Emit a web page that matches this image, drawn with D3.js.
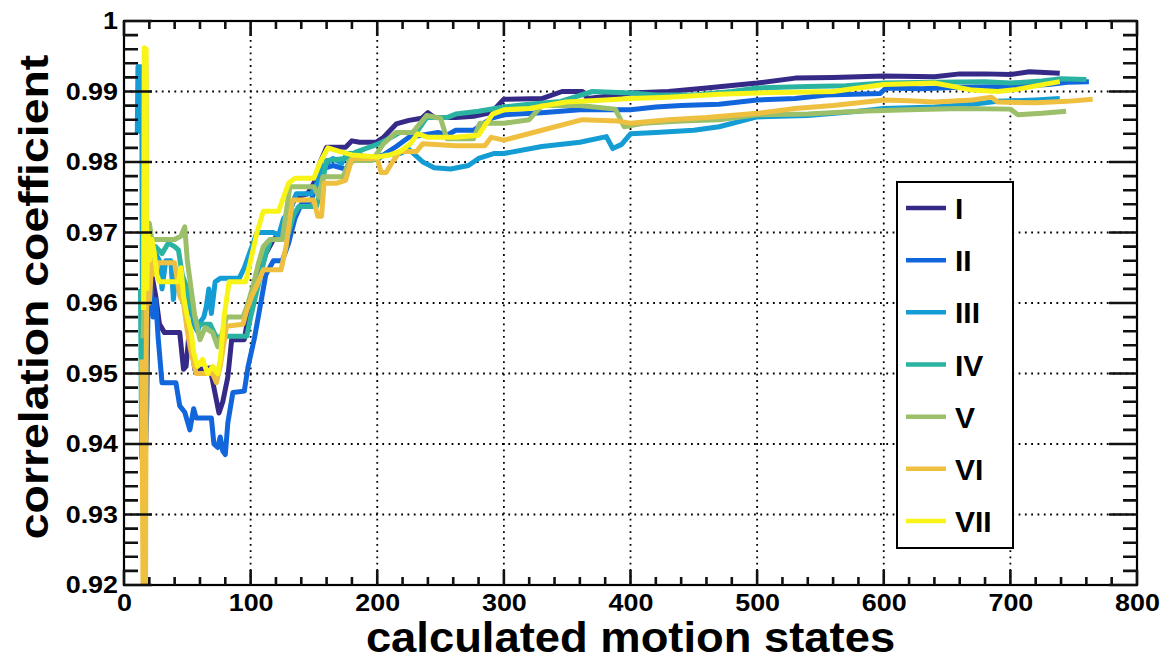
<!DOCTYPE html>
<html><head><meta charset="utf-8">
<title>correlation coefficient vs calculated motion states</title>
<script src="https://cdn.jsdelivr.net/npm/d3@7"></script>
<style>
body{margin:0;background:#fff}
svg text{font-family:"Liberation Sans",Arial,Helvetica,sans-serif;font-weight:bold;fill:#000}
</style></head>
<body><svg id="chart" width="1169" height="661"></svg>
<script>
// ---------- layout scaffolding first ----------
const L = 124, R = 1137, T = 21, B = 585;
const svg = d3.select("#chart");

// ---------- labels / ticks ----------
const xTitle = "calculated motion states";
const yTitle = "correlation coefficient";
const xMajorTicks = [0,100,200,300,400,500,600,700,800];
const yMajorTicks = [0.92,0.93,0.94,0.95,0.96,0.97,0.98,0.99,1];
const yTickLabels = ["0.92","0.93","0.94","0.95","0.96","0.97","0.98","0.99","1"];
const seriesNames = ["I","II","III","IV","V","VI","VII"];
const seriesColors = ["#352a87","#1266dc","#149cd5","#2bb3a2","#9cbf6a","#efc040","#f8f417"];

const x = d3.scaleLinear().domain([0,800]).range([L,R]);
const y = d3.scaleLinear().domain([0.92,1]).range([B,T]);
const xMinor = d3.range(0,801,20).filter(v => v%100!==0);
const yMinor = d3.range(0,41,1).filter(i => i%5!==0).map(i => 0.92+i*0.002);

// ---------- series data [x, r] ----------
const serI = [[16,0.965],[17,0.9955],[18,0.962],[20,0.961],[22,0.964],[25,0.961],[28,0.957],[32,0.9558],[44,0.9558],[47,0.9506],[49,0.951],[51,0.955],[54,0.953],[56,0.9505],[68,0.9508],[71,0.948],[75,0.9444],[78,0.946],[82,0.9495],[85,0.9548],[95,0.9548],[98,0.958],[102,0.9605],[107,0.964],[112,0.967],[118,0.969],[125,0.970],[130,0.9725],[135,0.975],[145,0.9755],[150,0.977],[155,0.980],[160,0.9821],[175,0.9821],[180,0.983],[186,0.9828],[199,0.9828],[205,0.9835],[215,0.9854],[225,0.9859],[235,0.9862],[240,0.987],[245,0.9863],[262,0.9863],[276,0.9865],[290,0.987],[300,0.9889],[330,0.989],[346,0.990],[362,0.990],[366,0.989],[390,0.9895],[400,0.9898],[430,0.990],[460,0.9905],[500,0.9912],[530,0.9919],[560,0.992],[580,0.9921],[600,0.9922],[640,0.9921],[660,0.9925],[680,0.9925],[700,0.9924],[715,0.9928],[739,0.9926]];
const serII = [[16,0.958],[17,0.939],[18,0.945],[19,0.960],[21,0.963],[23,0.958],[25,0.9605],[27,0.955],[30,0.9487],[41,0.9487],[44,0.9454],[48,0.9445],[52,0.942],[55,0.945],[57,0.9437],[69,0.9437],[71,0.940],[74,0.9395],[76,0.941],[78,0.939],[80,0.9385],[82,0.943],[86,0.9473],[95,0.9475],[98,0.951],[103,0.955],[108,0.960],[112,0.964],[118,0.966],[125,0.966],[130,0.9685],[135,0.972],[140,0.974],[148,0.9745],[152,0.977],[156,0.979],[165,0.9795],[175,0.979],[182,0.9805],[195,0.9805],[205,0.981],[215,0.9822],[225,0.9835],[235,0.9838],[248,0.9842],[255,0.9838],[262,0.9845],[276,0.9845],[290,0.9862],[300,0.9867],[330,0.987],[360,0.9874],[400,0.9874],[420,0.9878],[440,0.988],[470,0.9882],[500,0.9888],[530,0.989],[555,0.9895],[597,0.9897],[602,0.9905],[630,0.9904],[660,0.9906],[700,0.9907],[730,0.991],[745,0.9913],[762,0.9914]];
const serIII = [[10.5,0.984],[11,0.9935],[14,0.9935],[14.5,0.960],[16,0.975],[17,0.968],[19,0.966],[21,0.969],[23,0.965],[25,0.967],[28,0.966],[30,0.962],[33,0.966],[37,0.966],[39,0.9605],[41,0.964],[44,0.964],[47,0.962],[50,0.958],[52,0.9615],[55,0.957],[58,0.956],[61,0.9575],[63,0.958],[65,0.9595],[67,0.962],[69,0.9585],[72,0.963],[76,0.9635],[91,0.9635],[95,0.965],[99,0.967],[105,0.970],[118,0.970],[122,0.9695],[126,0.972],[131,0.973],[136,0.9755],[148,0.9755],[153,0.977],[158,0.9795],[165,0.9805],[172,0.9798],[176,0.9812],[185,0.9812],[192,0.9805],[200,0.9803],[205,0.981],[218,0.9812],[225,0.9818],[236,0.980],[245,0.9792],[258,0.979],[272,0.9795],[280,0.9805],[292,0.9812],[300,0.9812],[330,0.9822],[360,0.9828],[381,0.9836],[386,0.9819],[393,0.9825],[400,0.984],[420,0.9842],[450,0.9845],[470,0.985],[500,0.9864],[540,0.9866],[580,0.9872],[600,0.9876],[640,0.9878],[670,0.9882],[690,0.9886],[720,0.9888],[739,0.989]];
const serIV = [[13,0.962],[14,0.938],[15,0.968],[16,0.993],[17,0.975],[18,0.966],[20,0.9675],[25,0.968],[30,0.967],[35,0.9685],[40,0.968],[43,0.9675],[46,0.964],[50,0.962],[53,0.9595],[56,0.958],[58,0.957],[68,0.957],[72,0.9555],[75,0.955],[80,0.9553],[97,0.9553],[100,0.958],[104,0.961],[108,0.964],[112,0.967],[116,0.969],[125,0.969],[130,0.970],[134,0.9725],[138,0.9737],[152,0.9737],[156,0.9765],[160,0.9802],[175,0.9805],[183,0.9814],[200,0.9825],[210,0.9834],[218,0.9842],[231,0.9842],[239,0.9863],[255,0.9863],[262,0.9868],[280,0.9872],[300,0.9878],[320,0.9882],[345,0.9886],[370,0.990],[400,0.9898],[420,0.9895],[450,0.9895],[480,0.990],[500,0.9905],[540,0.9907],[570,0.9908],[600,0.9912],[640,0.9913],[680,0.9914],[700,0.9912],[725,0.9915],[740,0.9918],[760,0.9917]];
const serV = [[15,0.955],[16,0.9615],[17,0.970],[18,0.966],[20,0.9713],[22,0.969],[30,0.969],[40,0.969],[45,0.9695],[48,0.9708],[50,0.966],[53,0.962],[56,0.958],[60,0.9548],[64,0.9565],[70,0.9558],[74,0.9538],[78,0.956],[81,0.958],[94,0.958],[98,0.960],[102,0.9625],[106,0.9655],[110,0.968],[115,0.969],[125,0.969],[131,0.9765],[150,0.9765],[154,0.975],[157,0.9779],[173,0.9779],[178,0.9802],[196,0.9802],[205,0.9826],[215,0.9842],[228,0.9842],[239,0.9866],[250,0.9862],[255,0.9833],[276,0.9833],[281,0.9855],[300,0.9855],[320,0.986],[330,0.988],[360,0.988],[388,0.9875],[395,0.985],[410,0.9855],[440,0.9858],[470,0.986],[500,0.9867],[540,0.9868],[580,0.9872],[620,0.9874],[660,0.9876],[700,0.9875],[706,0.9867],[725,0.9869],[744,0.9872]];
const serVI = [[14,0.952],[15,0.92],[17,0.92],[17.5,0.952],[18,0.963],[19,0.968],[20,0.960],[22,0.966],[25,0.964],[27,0.9657],[40,0.9657],[44,0.961],[47,0.960],[50,0.956],[53,0.953],[57,0.950],[70,0.950],[73,0.9487],[76,0.951],[81,0.9567],[94,0.957],[97,0.959],[101,0.961],[105,0.9625],[110,0.9647],[124,0.9647],[128,0.968],[133,0.9746],[150,0.9746],[153,0.9723],[156,0.9723],[158,0.977],[168,0.977],[175,0.9774],[180,0.9805],[200,0.9805],[203,0.9785],[207,0.9785],[212,0.980],[218,0.9815],[231,0.9815],[236,0.9826],[262,0.9823],[285,0.9823],[290,0.9835],[300,0.9831],[330,0.9845],[362,0.986],[390,0.9858],[400,0.9855],[430,0.986],[460,0.9863],[500,0.9869],[530,0.9876],[560,0.988],[600,0.9888],[620,0.9887],[640,0.9885],[670,0.9888],[685,0.9892],[690,0.9885],[720,0.9884],[745,0.9886],[765,0.9889]];
const serVII = [[15.5,0.959],[16,0.9962],[17.5,0.996],[18,0.962],[19,0.970],[20,0.966],[22,0.969],[24,0.967],[26,0.964],[28,0.963],[43,0.963],[45,0.965],[47,0.961],[50,0.958],[53,0.956],[55,0.953],[58,0.951],[62,0.952],[66,0.950],[70,0.951],[74,0.950],[76,0.952],[79,0.958],[83,0.963],[96,0.963],[100,0.966],[105,0.970],[110,0.973],[122,0.973],[126,0.975],[130,0.977],[135,0.9777],[150,0.9777],[155,0.980],[161,0.982],[170,0.9815],[180,0.981],[200,0.9807],[210,0.981],[218,0.9815],[226,0.9826],[232,0.984],[240,0.9835],[262,0.9835],[280,0.9838],[291,0.9868],[300,0.9874],[320,0.9876],[349,0.9885],[380,0.9888],[400,0.989],[430,0.9892],[470,0.9896],[500,0.9898],[530,0.9899],[560,0.990],[600,0.991],[640,0.9912],[670,0.9902],[690,0.99],[705,0.9903],[720,0.9908],[739,0.9914]];
const allSeries = [serI,serII,serIII,serIV,serV,serVI,serVII];

// dotted grid
const grid = svg.append("g");
grid.selectAll("line.gx").data(xMajorTicks.slice(1,-1)).join("line")
  .attr("x1",d=>x(d)).attr("x2",d=>x(d)).attr("y1",T).attr("y2",B)
  .attr("stroke","#000").attr("stroke-width",1.8).attr("stroke-dasharray","1.8 4.5");
grid.selectAll("line.gy").data(yMajorTicks.slice(1,-1)).join("line")
  .attr("x1",L).attr("x2",R).attr("y1",d=>y(d)).attr("y2",d=>y(d))
  .attr("stroke","#000").attr("stroke-width",1.8).attr("stroke-dasharray","1.8 4.5");

svg.append("defs").append("clipPath").attr("id","plotclip").append("rect")
  .attr("x",L).attr("y",T).attr("width",R-L).attr("height",B-T);

const line = d3.line().x(d=>x(d[0])).y(d=>y(d[1]));
const lines = svg.append("g").attr("clip-path","url(#plotclip)");
allSeries.forEach((s,i)=>{
  lines.append("path").datum(s).attr("d",line).attr("fill","none")
    .attr("stroke",seriesColors[i]).attr("stroke-width",5).attr("stroke-linejoin","round");
});

// tick labels through d3 axes
const sx = 1.12;
svg.append("g").attr("transform",`translate(0,${B})`)
  .call(d3.axisBottom(x).tickValues(xMajorTicks).tickSize(0).tickPadding(10).tickFormat(d3.format("d")))
  .call(g=>{g.select(".domain").remove(); g.selectAll("line").remove();})
  .call(g=>g.selectAll("text").attr("font-size",24).attr("font-family",null).attr("fill","#000").attr("transform",`scale(${sx},1)`).attr("y",9).attr("dy","0.71em"));
svg.append("g").attr("transform",`translate(${L},0)`)
  .call(d3.axisLeft(y).tickValues(yMajorTicks).tickSize(0).tickPadding(6).tickFormat((d,i)=>yTickLabels[i]))
  .call(g=>{g.select(".domain").remove(); g.selectAll("line").remove();})
  .call(g=>g.selectAll("text").attr("font-size",24).attr("font-family",null).attr("fill","#000").attr("transform",`scale(${sx},1)`).attr("x",-6/sx));

// axis titles
svg.append("text").attr("transform",`translate(${(L+R)/2},652) scale(1.08,1)`)
  .attr("text-anchor","middle").attr("font-size",42).text(xTitle);
svg.append("text").attr("transform",`translate(48,${(T+B)/2-6}) rotate(-90) scale(1.16,1)`)
  .attr("text-anchor","middle").attr("font-size",40).text(yTitle);

// legend
const leg = svg.append("g");
leg.append("rect").attr("x",897).attr("y",182).attr("width",116).attr("height",366)
  .attr("fill","#fff").attr("stroke","#000").attr("stroke-width",2);
const legY = d3.scalePoint().domain(seriesNames).range([208,521]);
seriesNames.forEach((n,i)=>{
  leg.append("line").attr("x1",906).attr("x2",946).attr("y1",legY(n)).attr("y2",legY(n))
    .attr("stroke",seriesColors[i]).attr("stroke-width",4.5);
  leg.append("text").attr("x",955).attr("y",legY(n)+11).attr("font-size",30).text(n);
});

// frame
svg.append("rect").attr("x",L).attr("y",T).attr("width",R-L).attr("height",B-T)
  .attr("fill","none").attr("stroke","#000").attr("stroke-width",2.2);

// inward ticks on all four sides
let tickPath = d3.path();
function addX(vals,len){ vals.forEach(v=>{ const px=x(v); tickPath.moveTo(px,B); tickPath.lineTo(px,B-len); tickPath.moveTo(px,T); tickPath.lineTo(px,T+len); }); }
function addY(vals,len){ vals.forEach(v=>{ const py=y(v); tickPath.moveTo(L,py); tickPath.lineTo(L+len,py); tickPath.moveTo(R,py); tickPath.lineTo(R-len,py); }); }
addX(xMajorTicks,15); addX(xMinor,8);
addY(yMajorTicks,28); addY(yMinor,14);
svg.append("path").attr("d",tickPath.toString()).attr("fill","none")
  .attr("stroke","#111").attr("stroke-width",2.6);
</script></body></html>
